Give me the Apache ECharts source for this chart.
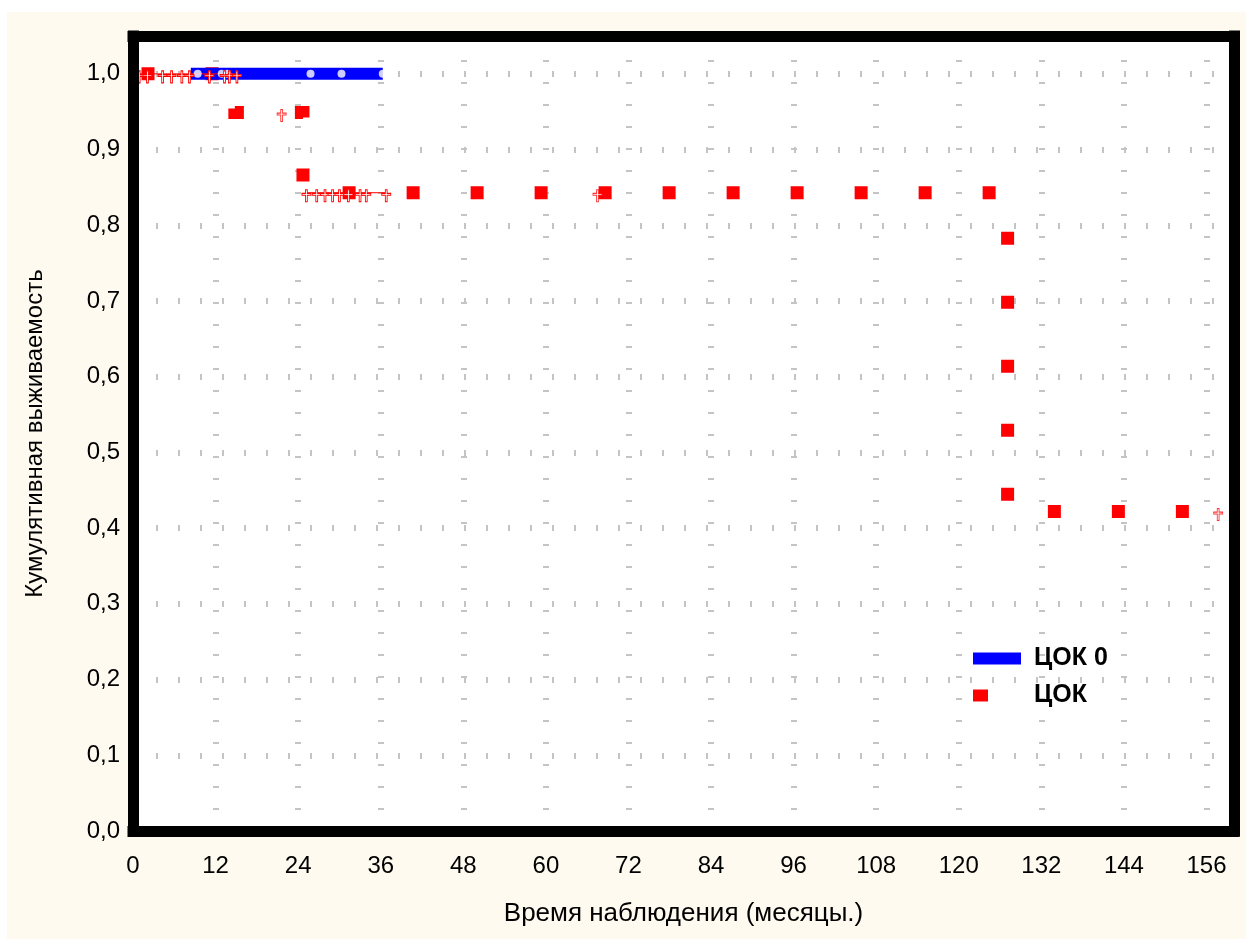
<!DOCTYPE html>
<html><head><meta charset="utf-8">
<script src="https://cdn.jsdelivr.net/npm/echarts@6/dist/echarts.min.js"></script>
<style>
html,body{margin:0;padding:0;background:#fff;}
#bg{position:absolute;left:7px;top:12px;width:1239px;height:927px;background:#fefaf0;}
#chart{position:absolute;left:0;top:0;width:1246px;height:939px;}
</style></head><body><div id="bg"></div><div id="chart"></div>
<script>
// ---- data ----
const seriesNames = ['ЦОК 0', 'ЦОК'];
const xTickValues = [0, 12, 24, 36, 48, 60, 72, 84, 96, 108, 120, 132, 144, 156];
const yTickValues = [0, 0.1, 0.2, 0.3, 0.4, 0.5, 0.6, 0.7, 0.8, 0.9, 1.0];
const yTickLabels = ['0,0', '0,1', '0,2', '0,3', '0,4', '0,5', '0,6', '0,7', '0,8', '0,9', '1,0'];

// ЦОК 0 (blue): survival stays at 1.0
const blueCurve = [[8.4, 1.0], [36.3, 1.0]];
const blueCensored = [[9.4, 1.0], [12.9, 1.0], [13.7, 1.0], [25.8, 1.0], [30.3, 1.0], [36.3, 1.0]];

// ЦОК (red): step survival curve
const redCurve = [[0, 1.0], [14.8, 1.0], [14.8, 0.949], [24.7, 0.949], [24.7, 0.843],
                  [127.1, 0.843], [127.1, 0.422], [160, 0.422]];
const redCensoredTop = [[0.9, 1.0], [2.1, 1.0], [4.3, 1.0], [5.6, 1.0], [7.1, 1.0], [8.2, 1.0],
                        [11.1, 1.0], [13.3, 1.0], [14.0, 1.0], [15.1, 1.0]];
const redCensoredMid = [[25.2, 0.843], [26.7, 0.843], [27.9, 0.843], [29.0, 0.843], [30.0, 0.843],
                        [31.3, 0.843], [33.0, 0.843], [33.9, 0.843], [36.8, 0.843]];
const redCensoredOther = [[21.6, 0.949], [67.5, 0.843], [157.7, 0.422]];

// ---- chart ----
const chart = echarts.init(document.getElementById('chart'));
const FONT = '"Liberation Sans", Arial, sans-serif';
const frameLine = {show: true, onZero: false, lineStyle: {color: '#000', width: 11, cap: 'square'}};
const hidden = {axisLabel: {show: false}, axisTick: {show: false}, splitLine: {show: false}};
const censorPath = 'path://M4,0H6V4H10V6H6V13H4V6H0V4H4Z';

const option = {
  backgroundColor: 'transparent',
  animation: false,
  grid: {left: 133, right: 12, top: 36, bottom: 108, show: true, backgroundColor: '#fff', borderWidth: 0},
  xAxis: [
    {type: 'value', min: 0, max: 160, interval: 12, position: 'bottom', z: 0,
     axisLine: {show: false, onZero: false}, axisTick: {show: false},
     axisLabel: {margin: 23, fontSize: 24, fontFamily: FONT, color: '#000',
       formatter: v => xTickValues.indexOf(v) >= 0 ? String(v) : ''},
     splitLine: {show: true, showMinLine: false, showMaxLine: false,
       lineStyle: {color: '#c4c4c4', width: 6, type: [2, 20], dashOffset: 20}},
     name: 'Время наблюдения (месяцы.)', nameLocation: 'middle', nameGap: 70,
     nameTextStyle: {fontSize: 26, fontFamily: FONT, color: '#000'}},
    Object.assign({type: 'value', min: 0, max: 160, position: 'bottom', z: 5, axisLine: frameLine}, hidden),
    Object.assign({type: 'value', min: 0, max: 160, position: 'top', z: 5, axisLine: frameLine}, hidden)
  ],
  yAxis: [
    {type: 'value', min: 0, max: 1.05, interval: 0.1, position: 'left', z: 0,
     axisLine: {show: false, onZero: false}, axisTick: {show: false},
     axisLabel: {margin: 13, fontSize: 24, fontFamily: FONT, color: '#000',
       formatter: v => {
         const i = yTickValues.findIndex(t => Math.abs(t - v) < 1e-6);
         return i >= 0 ? yTickLabels[i] : '';
       }},
     splitLine: {show: true, showMinLine: false, showMaxLine: false,
       lineStyle: {color: '#c4c4c4', width: 6, type: [2, 20], dashOffset: 21}},
     name: 'Кумулятивная выживаемость', nameLocation: 'middle', nameGap: 86,
     nameTextStyle: {fontSize: 24, fontFamily: FONT, color: '#000'}},
    Object.assign({type: 'value', min: 0, max: 1.05, position: 'left', z: 5, axisLine: frameLine}, hidden),
    Object.assign({type: 'value', min: 0, max: 1.05, position: 'right', z: 5, axisLine: frameLine}, hidden)
  ],
  legend: [
    {data: [seriesNames[0]], left: 973, top: 646, padding: 0, icon: 'rect', itemWidth: 48, itemHeight: 12,
     selectedMode: false, itemStyle: {borderWidth: 0},
     textStyle: {fontSize: 25, fontWeight: 'bold', color: '#000',
       fontFamily: '"Liberation Sans Narrow", "Arial Narrow", "Liberation Sans", sans-serif', padding: [0, 0, 0, 8]}},
    {data: [seriesNames[1]], left: 973, top: 683, padding: 0, icon: 'rect', itemWidth: 15, itemHeight: 12,
     selectedMode: false, itemStyle: {borderWidth: 0},
     textStyle: {fontSize: 25, fontWeight: 'bold', color: '#000',
       fontFamily: '"Liberation Sans Narrow", "Arial Narrow", "Liberation Sans", sans-serif', padding: [0, 0, 0, 41]}}
  ],
  series: [
    {name: seriesNames[1], type: 'line', data: redCurve, showSymbol: false, z: 2,
     itemStyle: {color: '#ff0000'},
     lineStyle: {color: '#ff0000', width: 13, type: [13, 51], dashOffset: 55.5, cap: 'butt', join: 'miter'}},
    {name: seriesNames[0], type: 'line', data: blueCurve, showSymbol: false, z: 3,
     itemStyle: {color: '#0000ff'},
     lineStyle: {color: '#0000ff', width: 12, cap: 'butt'}},
    {name: 'blueCens', type: 'scatter', data: blueCensored, symbol: 'circle', symbolSize: 8, z: 4,
     itemStyle: {color: '#ffffff'}},
    {name: 'redCensTop', type: 'line', data: redCensoredTop, z: 4, showSymbol: true,
     symbol: censorPath, symbolSize: [9, 12], symbolOffset: [0, 3],
     lineStyle: {color: '#ff0000', width: 1},
     itemStyle: {color: '#ffffff', borderColor: '#ff0000', borderWidth: 1}},
    {name: 'redCensMid', type: 'line', data: redCensoredMid, z: 4, showSymbol: true,
     symbol: censorPath, symbolSize: [9, 12], symbolOffset: [0, 3],
     lineStyle: {color: '#ff0000', width: 1},
     itemStyle: {color: '#ffffff', borderColor: '#ff0000', borderWidth: 1}},
    {name: 'redCensOther', type: 'scatter', data: redCensoredOther, z: 4,
     symbol: censorPath, symbolSize: [9, 12], symbolOffset: [0, 3],
     itemStyle: {color: '#ffffff', borderColor: '#ff0000', borderWidth: 1}}
  ]
};
chart.setOption(option);
</script></body></html>
